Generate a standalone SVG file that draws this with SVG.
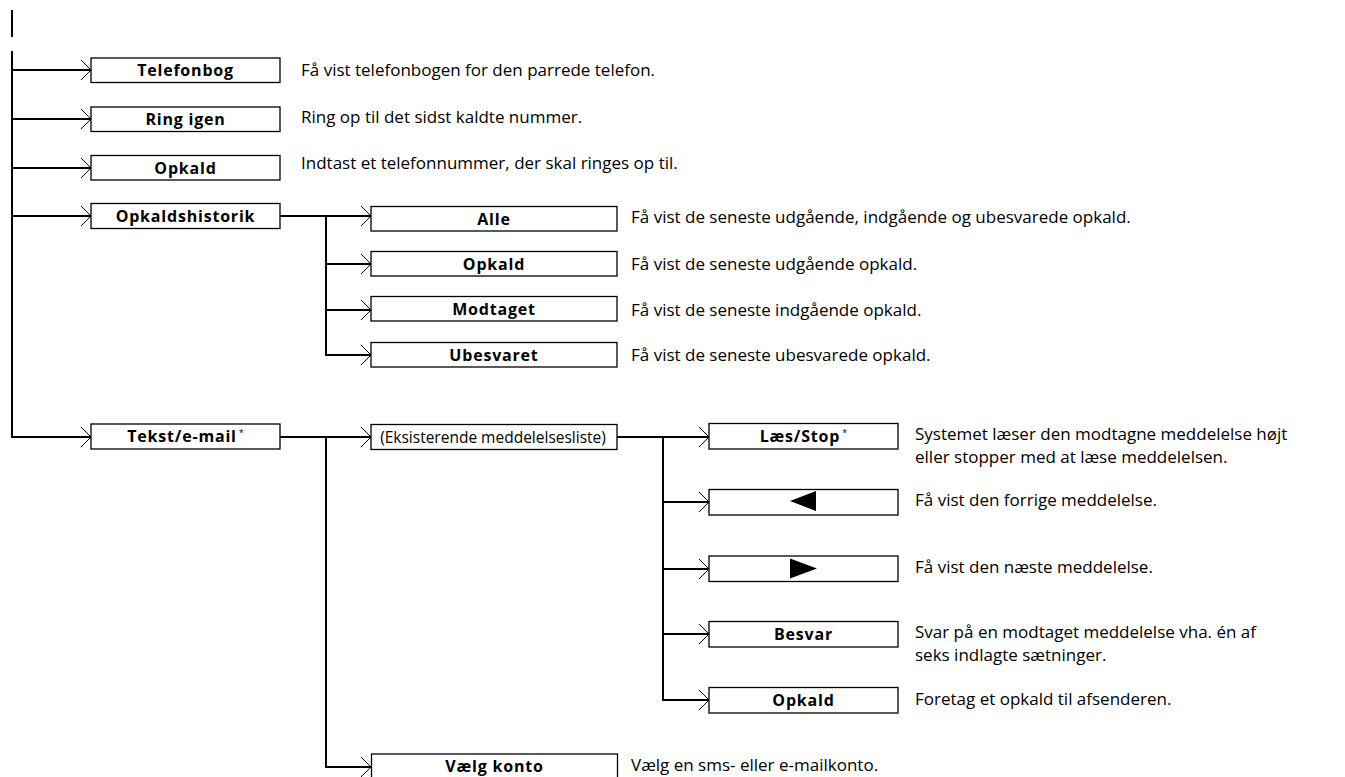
<svg xmlns="http://www.w3.org/2000/svg" width="1345" height="777" viewBox="0 0 1345 777">
<style>
.bx{fill:#fff;stroke:#000;stroke-width:1.3}
.ln{fill:none;stroke:#000;stroke-width:2}
.ah{fill:none;stroke:#000;stroke-width:1}
.lb{font-family:"Open Sans","Noto Sans","DejaVu Sans",sans-serif;font-size:16px;letter-spacing:0.8px;font-weight:bold;text-anchor:middle;fill:#000}
.lbn{font-family:"Open Sans","Noto Sans","DejaVu Sans",sans-serif;font-size:15.5px;text-anchor:middle;fill:#000}
.ds{font-family:"Open Sans","Noto Sans","DejaVu Sans",sans-serif;font-size:17px;fill:#000}
.st{font-size:9px;font-weight:normal;letter-spacing:0}
</style>
<defs>
<marker id="arr" markerWidth="12" markerHeight="22" refX="10" refY="11" orient="auto" markerUnits="userSpaceOnUse">
<path d="M0,1 L10,11 L0,21" class="ah"/>
</marker>
</defs>
<rect width="1345" height="777" fill="#fff"/>
<g id="connectors">
<line x1="12" y1="10" x2="12" y2="37" class="ln"/>
<line x1="12" y1="51" x2="12" y2="438" class="ln"/>
<path d="M12,70 H91" class="ln" marker-end="url(#arr)"/>
<path d="M12,119 H91" class="ln" marker-end="url(#arr)"/>
<path d="M12,168 H91" class="ln" marker-end="url(#arr)"/>
<path d="M12,216 H91" class="ln" marker-end="url(#arr)"/>
<path d="M12,437 H91" class="ln" marker-end="url(#arr)"/>
<path d="M280,216 H371" class="ln" marker-end="url(#arr)"/>
<line x1="326" y1="216" x2="326" y2="356" class="ln"/>
<path d="M326,264 H371" class="ln" marker-end="url(#arr)"/>
<path d="M326,310 H371" class="ln" marker-end="url(#arr)"/>
<path d="M326,355 H371" class="ln" marker-end="url(#arr)"/>
<path d="M280,437 H371" class="ln" marker-end="url(#arr)"/>
<line x1="326" y1="437" x2="326" y2="768" class="ln"/>
<path d="M326,767 H371" class="ln" marker-end="url(#arr)"/>
<path d="M617,437 H709" class="ln" marker-end="url(#arr)"/>
<line x1="663" y1="437" x2="663" y2="701" class="ln"/>
<path d="M663,502 H709" class="ln" marker-end="url(#arr)"/>
<path d="M663,569 H709" class="ln" marker-end="url(#arr)"/>
<path d="M663,634 H709" class="ln" marker-end="url(#arr)"/>
<path d="M663,700 H709" class="ln" marker-end="url(#arr)"/>
</g>
<g id="telefonbog">
<rect x="91" y="58" width="189" height="24.5" class="bx"/>
<text x="185.5" y="76" class="lb">Telefonbog</text>
<text x="301" y="76" class="ds">Få vist telefonbogen for den parrede telefon.</text>
</g>
<g id="ring-igen">
<rect x="91" y="107" width="189" height="24.5" class="bx"/>
<text x="185.5" y="125" class="lb">Ring igen</text>
<text x="301" y="123" class="ds">Ring op til det sidst kaldte nummer.</text>
</g>
<g id="opkald1">
<rect x="91" y="155.5" width="189" height="24.5" class="bx"/>
<text x="185.5" y="173.5" class="lb">Opkald</text>
<text x="301" y="169" class="ds">Indtast et telefonnummer, der skal ringes op til.</text>
</g>
<g id="opkaldshistorik">
<rect x="91" y="203.5" width="189" height="25" class="bx"/>
<text x="185.5" y="221.5" class="lb">Opkaldshistorik</text>
</g>
<g id="alle">
<rect x="371" y="206.5" width="246" height="24.5" class="bx"/>
<text x="494" y="224.5" class="lb">Alle</text>
<text x="631" y="223" class="ds">Få vist de seneste udgående, indgående og ubesvarede opkald.</text>
</g>
<g id="opkald2">
<rect x="371" y="251.5" width="246" height="24.5" class="bx"/>
<text x="494" y="269.5" class="lb">Opkald</text>
<text x="631" y="270" class="ds">Få vist de seneste udgående opkald.</text>
</g>
<g id="modtaget">
<rect x="371" y="296.5" width="246" height="24.5" class="bx"/>
<text x="494" y="314.5" class="lb">Modtaget</text>
<text x="631" y="316" class="ds">Få vist de seneste indgående opkald.</text>
</g>
<g id="ubesvaret">
<rect x="371" y="342.5" width="246" height="24.5" class="bx"/>
<text x="494" y="360.5" class="lb">Ubesvaret</text>
<text x="631" y="361" class="ds">Få vist de seneste ubesvarede opkald.</text>
</g>
<g id="tekst-email">
<rect x="91" y="424" width="189" height="25" class="bx"/>
<text x="185.5" y="442" class="lb">Tekst/e-mail<tspan class="st" dx="2" dy="-6">*</tspan></text>
</g>
<g id="eksisterende">
<rect x="371" y="424.5" width="246" height="25" class="bx"/>
<text x="493" y="442.5" class="lbn">(Eksisterende meddelelsesliste)</text>
</g>
<g id="laes-stop">
<rect x="709" y="423.5" width="189" height="25.5" class="bx"/>
<text x="803.5" y="442" class="lb">Læs/Stop<tspan class="st" dx="2" dy="-6">*</tspan></text>
<text x="915" y="440" class="ds">Systemet læser den modtagne meddelelse højt</text>
<text x="915" y="463" class="ds">eller stopper med at læse meddelelsen.</text>
</g>
<g id="forrige">
<rect x="709" y="489.5" width="189" height="25.5" class="bx"/>
<polygon points="790,501 816,491 816,511" fill="#000"/>
<text x="915" y="506" class="ds">Få vist den forrige meddelelse.</text>
</g>
<g id="naeste">
<rect x="709" y="556" width="189" height="25.5" class="bx"/>
<polygon points="790,558.5 817,568.5 790,578.5" fill="#000"/>
<text x="915" y="573" class="ds">Få vist den næste meddelelse.</text>
</g>
<g id="besvar">
<rect x="709" y="621.5" width="189" height="25.5" class="bx"/>
<text x="803.5" y="640" class="lb">Besvar</text>
<text x="915" y="638" class="ds">Svar på en modtaget meddelelse vha. én af</text>
<text x="915" y="661" class="ds">seks indlagte sætninger.</text>
</g>
<g id="opkald3">
<rect x="709" y="687.5" width="189" height="25.5" class="bx"/>
<text x="803.5" y="706" class="lb">Opkald</text>
<text x="915" y="705" class="ds">Foretag et opkald til afsenderen.</text>
</g>
<g id="vaelg-konto">
<rect x="371.5" y="754" width="246" height="25" class="bx"/>
<text x="494.5" y="772" class="lb">Vælg konto</text>
<text x="631" y="771" class="ds">Vælg en sms- eller e-mailkonto.</text>
</g>
</svg>
